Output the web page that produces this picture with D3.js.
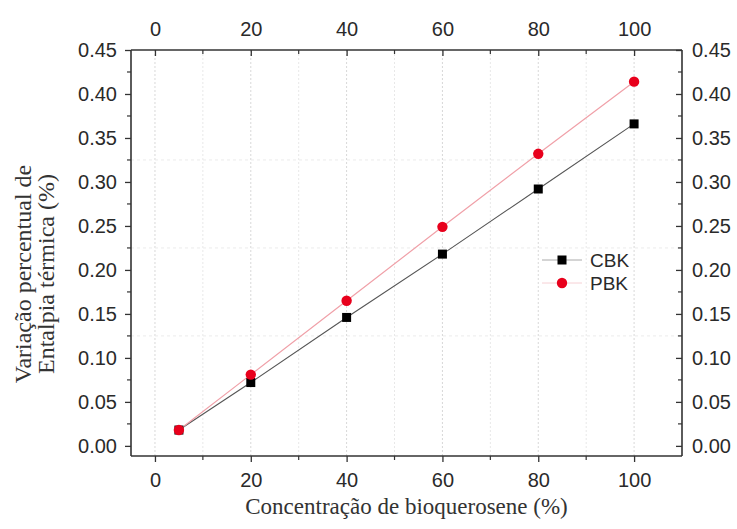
<!DOCTYPE html>
<html>
<head>
<meta charset="utf-8">
<script src="https://cdn.jsdelivr.net/npm/d3@7"></script>
<style>
  html, body { margin: 0; padding: 0; background: #fff; }
  svg { display: block; }
  .tick text { font-family: "Liberation Sans", Arial, sans-serif; font-size: 20px; fill: #2a2a2a; }
</style>
</head>
<body>
<svg id="chart" width="737" height="529"></svg>
<script>
// Biokerosene concentration (%) and percent variation of thermal enthalpy
const concentrations = [5, 20, 40, 60, 80, 100];
const cbkValues = [0.018, 0.072, 0.146, 0.218, 0.292, 0.366];
const pbkValues = [0.018, 0.081, 0.165, 0.249, 0.332, 0.414];
const xTickValues = [0, 20, 40, 60, 80, 100];
const yTickValues = [0, 0.05, 0.10, 0.15, 0.20, 0.25, 0.30, 0.35, 0.40, 0.45];
const xTitle = "Concentração de bioquerosene (%)";
const yTitleLines = ["Variação percentual de", "Entalpia térmica (%)"];
const seriesNames = ["CBK", "PBK"];

const svg = d3.select("#chart");
const plot = { left: 131, right: 682, top: 50, bottom: 456 };

const x = d3.scaleLinear().domain([-5, 110]).range([plot.left, plot.right]);
const y = d3.scaleLinear().domain([-0.0115, 0.45]).range([plot.bottom, plot.top]);

// faint grid lines
const grid = svg.append("g");
grid.selectAll("line.vg")
  .data(d3.range(0, 101, 10))
  .join("line")
  .attr("x1", d => x(d)).attr("x2", d => x(d))
  .attr("y1", plot.top).attr("y2", plot.bottom)
  .attr("stroke", d => d % 20 === 0 ? "#d8d8d8" : "#e8e8e8")
  .attr("stroke-width", 1)
  .attr("stroke-dasharray", "2,2");
grid.selectAll("line.hg")
  .data([0.125, 0.225, 0.325])
  .join("line")
  .attr("x1", plot.left).attr("x2", plot.right)
  .attr("y1", d => y(d)).attr("y2", d => y(d))
  .attr("stroke", "#ebebeb")
  .attr("stroke-width", 1)
  .attr("stroke-dasharray", "3,3");

// axes: left/bottom ticks point outward, top/right ticks point inward
function styleAxis(g) {
  g.select(".domain").attr("stroke", "#333").attr("stroke-width", 1.6);
  g.selectAll(".tick line").attr("stroke", "#333").attr("stroke-width", 1.3);
}
function minorTicks(g, values, scale, orient, len) {
  g.selectAll("line.minor")
    .data(values)
    .join("line")
    .attr("class", "minor")
    .attr("stroke", "#333")
    .attr("stroke-width", 1.2)
    .each(function(d) {
      const s = d3.select(this);
      if (orient === "h") s.attr("x1", scale(d)).attr("x2", scale(d)).attr("y1", 0).attr("y2", len);
      else s.attr("y1", scale(d)).attr("y2", scale(d)).attr("x1", 0).attr("x2", len);
    });
}
const xMinor = d3.range(10, 101, 20);
const yMinor = d3.range(0.025, 0.45, 0.05);

const gBottom = svg.append("g").attr("transform", `translate(0,${plot.bottom})`)
  .call(d3.axisBottom(x).tickValues(xTickValues).tickFormat(d3.format("d")).tickSizeOuter(0).tickSize(6).tickPadding(11));
styleAxis(gBottom); minorTicks(gBottom, xMinor, x, "h", 4);

const gTop = svg.append("g").attr("transform", `translate(0,${plot.top})`)
  .call(d3.axisTop(x).tickValues(xTickValues).tickFormat(d3.format("d")).tickSizeOuter(0).tickSize(-6).tickPadding(14));
styleAxis(gTop); minorTicks(gTop, xMinor, x, "h", 4);

const gLeft = svg.append("g").attr("transform", `translate(${plot.left},0)`)
  .call(d3.axisLeft(y).tickValues(yTickValues).tickFormat(d3.format(".2f")).tickSizeOuter(0).tickSize(6).tickPadding(8));
styleAxis(gLeft); minorTicks(gLeft, yMinor, y, "v", -4);

const gRight = svg.append("g").attr("transform", `translate(${plot.right},0)`)
  .call(d3.axisRight(y).tickValues(yTickValues).tickFormat(d3.format(".2f")).tickSizeOuter(0).tickSize(-6).tickPadding(10));
styleAxis(gRight); minorTicks(gRight, yMinor, y, "v", -4);

// extend domains so the frame closes at the corners
[gBottom, gTop].forEach(g => g.select(".domain").attr("d", `M${plot.left},0H${plot.right}`));
[gLeft, gRight].forEach(g => g.select(".domain").attr("d", `M0,${plot.top}V${plot.bottom}`));

// series lines
const line = vals => d3.line().x((d, i) => x(concentrations[i])).y(d => y(d))(vals);
svg.append("path").attr("d", line(cbkValues)).attr("fill", "none").attr("stroke", "#555").attr("stroke-width", 1.1);
svg.append("path").attr("d", line(pbkValues)).attr("fill", "none").attr("stroke", "#f0a0a8").attr("stroke-width", 1.2);

// markers
svg.selectAll("rect.cbk").data(cbkValues).join("rect")
  .attr("x", (d, i) => x(concentrations[i]) - 4.5).attr("y", d => y(d) - 4.5)
  .attr("width", 9).attr("height", 9).attr("fill", "#000");
svg.selectAll("circle.pbk").data(pbkValues).join("circle")
  .attr("cx", (d, i) => x(concentrations[i])).attr("cy", d => y(d))
  .attr("r", 5.2).attr("fill", "#e8001c");

// legend
const lg = svg.append("g");
const lgX = 562, lgY = [260, 283];
lg.append("line").attr("x1", lgX - 20).attr("x2", lgX + 20).attr("y1", lgY[0]).attr("y2", lgY[0]).attr("stroke", "#aaa").attr("stroke-width", 1);
lg.append("line").attr("x1", lgX - 20).attr("x2", lgX + 20).attr("y1", lgY[1]).attr("y2", lgY[1]).attr("stroke", "#f6d0d4").attr("stroke-width", 1);
lg.append("rect").attr("x", lgX - 4.5).attr("y", lgY[0] - 4.5).attr("width", 9).attr("height", 9).attr("fill", "#000");
lg.append("circle").attr("cx", lgX).attr("cy", lgY[1]).attr("r", 5.2).attr("fill", "#e8001c");
seriesNames.forEach((name, i) => {
  lg.append("text").attr("x", 590).attr("y", lgY[i] + 7)
    .attr("font-family", "Liberation Sans, Arial, sans-serif").attr("font-size", 19).attr("fill", "#2a2a2a")
    .text(name);
});

// axis titles
svg.append("text").attr("x", (plot.left + plot.right) / 2).attr("y", 514)
  .attr("text-anchor", "middle")
  .attr("font-family", "Liberation Serif, Times New Roman, serif").attr("font-size", 23).attr("fill", "#333")
  .text(xTitle);
const yt = svg.append("g").attr("transform", "translate(0,274) rotate(-90)");
yTitleLines.forEach((t, i) => {
  yt.append("text").attr("x", 0).attr("y", 31 + i * 23)
    .attr("text-anchor", "middle")
    .attr("font-family", "Liberation Serif, Times New Roman, serif").attr("font-size", 24).attr("fill", "#333")
    .text(t);
});
</script>
</body>
</html>
